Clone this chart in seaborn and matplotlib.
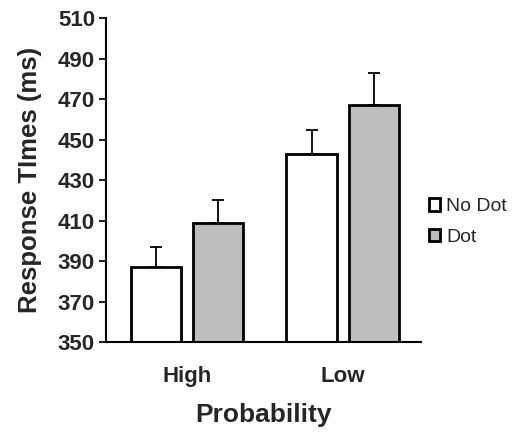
import pandas as pd
import seaborn as sns
import matplotlib.pyplot as plt

# values
probability = ['High', 'High', 'Low', 'Low']
condition = ['No Dot', 'Dot', 'No Dot', 'Dot']
rt_mean = [387, 409, 443, 467]
rt_err = [10, 11, 12, 16]

df = pd.DataFrame({'Probability': probability, 'Condition': condition, 'rt': rt_mean})

sns.set_style('white')
plt.rcParams['font.family'] = ['Liberation Sans', 'DejaVu Sans']

fig = plt.figure(figsize=(5.15, 4.33), dpi=100)
ax = fig.add_axes([0.206, 0.21, 0.611, 0.748])

sns.barplot(data=df, x='Probability', y='rt', hue='Condition',
            palette={'No Dot': 'white', 'Dot': '#bebebe'},
            edgecolor='black', linewidth=2, width=0.8, gap=0.19,
            errorbar=None, ax=ax)

# upward-only error bars, centred on each bar
for bar, cond, prob in zip(ax.patches, ['No Dot', 'No Dot', 'Dot', 'Dot'], ['High', 'Low', 'High', 'Low']):
    i = [k for k in range(4) if condition[k] == cond and probability[k] == prob][0]
    cx = bar.get_x() + bar.get_width() / 2
    ax.errorbar(cx, rt_mean[i], yerr=[[0], [rt_err[i]]], fmt='none',
                ecolor='black', elinewidth=1.3, capsize=4, capthick=1.3, zorder=1)

ax.set_ylim(350, 510)
ax.set_yticks(range(350, 511, 20))
ax.set_xlim(-0.52, 1.5)

sns.despine(ax=ax)
for s in ['left', 'bottom']:
    ax.spines[s].set_linewidth(1.5)
    ax.spines[s].set_color('black')

ax.tick_params(axis='y', direction='out', length=5, width=1.5, left=True, labelsize=16, pad=3)
ax.tick_params(axis='x', length=0, labelsize=16, pad=17)
for lab in ax.get_xticklabels() + ax.get_yticklabels():
    lab.set_fontweight('bold')

ax.set_xlabel('Probability', fontsize=19, fontweight='bold', labelpad=12)
ax.set_ylabel('Response TImes (ms)', fontsize=18.5, fontweight='bold', labelpad=11)

ax.legend(loc='center left', bbox_to_anchor=(1.0, 0.37), frameon=False,
          fontsize=14, handlelength=0.6, handleheight=0.6, handletextpad=0.3,
          labelspacing=0.7, borderaxespad=0.0)

fig.savefig('out.png', dpi=100)
